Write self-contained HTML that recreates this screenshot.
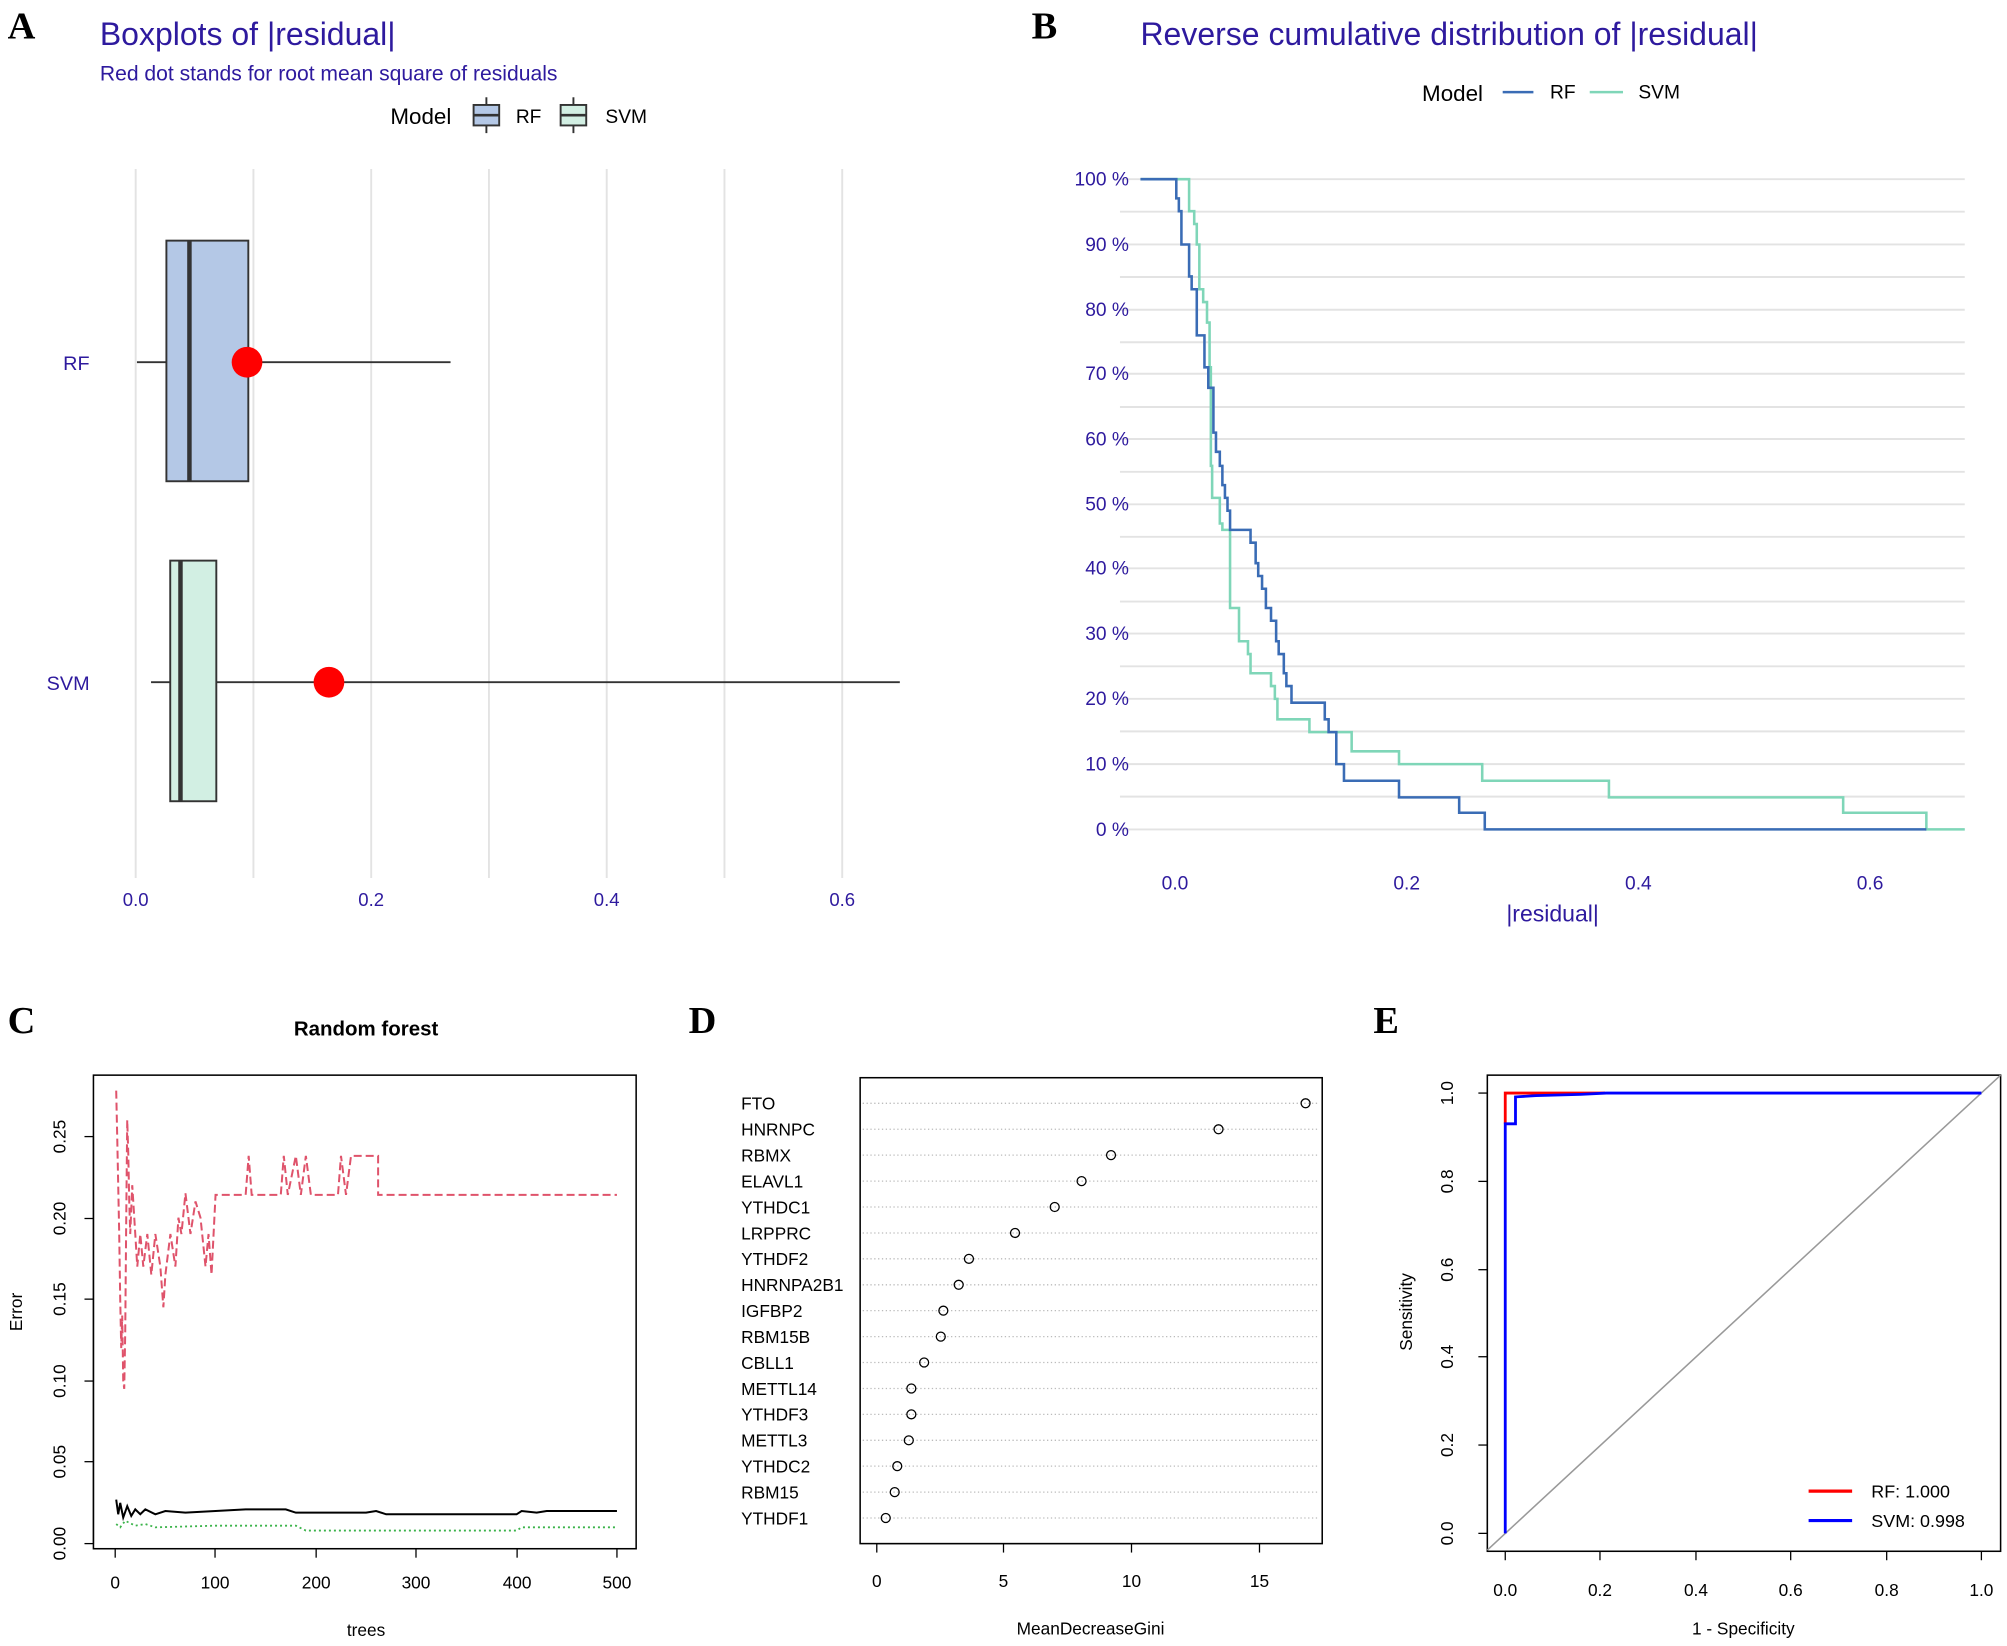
<!DOCTYPE html>
<html><head><meta charset="utf-8"><style>
html,body{margin:0;padding:0;background:#fff;}
svg{display:block;}
text{font-family:"Liberation Sans",Arial,sans-serif;}
.t{fill:#2e1a9e;}
.L{font-family:"Liberation Serif",serif;font-weight:bold;font-size:30px;fill:#000;}
</style></head><body>
<svg width="2007" height="1646" viewBox="0 0 1568 1286" preserveAspectRatio="none" xmlns="http://www.w3.org/2000/svg">
<rect width="1568" height="1286" fill="#fff"/>
<!-- Panel A -->
<text class="L" x="6" y="30">A</text>
<text class="t" x="78" y="35" font-size="25">Boxplots of |residual|</text>
<text class="t" x="78" y="63" font-size="16.5">Red dot stands for root mean square of residuals</text>
<text x="305" y="97" font-size="17.5">Model</text>
<line x1="380" y1="76" x2="380" y2="104" stroke="#333" stroke-width="1.5"/>
<rect x="370" y="82" width="20" height="16" fill="#b4c8e6" stroke="#333" stroke-width="1.5"/>
<line x1="370" y1="90" x2="390" y2="90" stroke="#333" stroke-width="2"/>
<text x="403" y="96" font-size="15">RF</text>
<line x1="448" y1="76" x2="448" y2="104" stroke="#333" stroke-width="1.5"/>
<rect x="438" y="82" width="20" height="16" fill="#d2efe3" stroke="#333" stroke-width="1.5"/>
<line x1="438" y1="90" x2="458" y2="90" stroke="#333" stroke-width="2"/>
<text x="473" y="96" font-size="15">SVM</text>
<g stroke="#e3e3e3" stroke-width="1.5">
<line x1="106" y1="132" x2="106" y2="686"/><line x1="198" y1="132" x2="198" y2="686"/><line x1="290" y1="132" x2="290" y2="686"/><line x1="382" y1="132" x2="382" y2="686"/><line x1="474" y1="132" x2="474" y2="686"/><line x1="566" y1="132" x2="566" y2="686"/><line x1="658" y1="132" x2="658" y2="686"/>
</g>
<g stroke="#333" stroke-width="1.5">
<line x1="107" y1="283" x2="352" y2="283"/>
<rect x="130" y="188" width="64" height="188" fill="#b4c8e6"/>
<line x1="148" y1="188" x2="148" y2="376" stroke-width="3.5"/>
<line x1="118" y1="533" x2="703" y2="533"/>
<rect x="133" y="438" width="36" height="188" fill="#d2efe3"/>
<line x1="141" y1="438" x2="141" y2="626" stroke-width="3.5"/>
</g>
<circle cx="193" cy="283" r="12" fill="#ff0000"/>
<circle cx="257" cy="533" r="12" fill="#ff0000"/>
<text class="t" x="70" y="289" font-size="15.5" text-anchor="end">RF</text>
<text class="t" x="70" y="539" font-size="15.5" text-anchor="end">SVM</text>
<g class="t" font-size="14.5" text-anchor="middle">
<text x="106" y="708">0.0</text><text x="290" y="708">0.2</text><text x="474" y="708">0.4</text><text x="658" y="708">0.6</text>
</g>
<!-- Panel B -->
<text class="L" x="806" y="30">B</text>
<text class="t" x="891" y="35" font-size="25">Reverse cumulative distribution of |residual|</text>
<text x="1111" y="79" font-size="17.5">Model</text>
<line x1="1174" y1="72" x2="1198" y2="72" stroke="#3a6cb5" stroke-width="2"/>
<text x="1211" y="77" font-size="15">RF</text>
<line x1="1242" y1="72" x2="1268" y2="72" stroke="#7fd6b8" stroke-width="2"/>
<text x="1280" y="77" font-size="15">SVM</text>
<g stroke="#e3e3e3" stroke-width="1.5">
<line x1="875" y1="140" x2="1535" y2="140"/><line x1="875" y1="165.4" x2="1535" y2="165.4"/><line x1="875" y1="191" x2="1535" y2="191"/><line x1="875" y1="216.4" x2="1535" y2="216.4"/><line x1="875" y1="242" x2="1535" y2="242"/><line x1="875" y1="267.4" x2="1535" y2="267.4"/><line x1="875" y1="292" x2="1535" y2="292"/><line x1="875" y1="318" x2="1535" y2="318"/><line x1="875" y1="343" x2="1535" y2="343"/><line x1="875" y1="368.6" x2="1535" y2="368.6"/><line x1="875" y1="394" x2="1535" y2="394"/><line x1="875" y1="419.4" x2="1535" y2="419.4"/><line x1="875" y1="444" x2="1535" y2="444"/><line x1="875" y1="470" x2="1535" y2="470"/><line x1="875" y1="495" x2="1535" y2="495"/><line x1="875" y1="520.6" x2="1535" y2="520.6"/><line x1="875" y1="546" x2="1535" y2="546"/><line x1="875" y1="571.4" x2="1535" y2="571.4"/><line x1="875" y1="597" x2="1535" y2="597"/><line x1="875" y1="622.4" x2="1535" y2="622.4"/><line x1="875" y1="648" x2="1535" y2="648"/>
</g>
<g class="t" font-size="15" text-anchor="end">
<text x="882" y="145">100 %</text><text x="882" y="196">90 %</text><text x="882" y="247">80 %</text><text x="882" y="297">70 %</text><text x="882" y="348">60 %</text><text x="882" y="399">50 %</text><text x="882" y="449">40 %</text><text x="882" y="500">30 %</text><text x="882" y="551">20 %</text><text x="882" y="602">10 %</text><text x="882" y="653">0 %</text>
</g>
<path fill="none" stroke="#7fd6b8" stroke-width="2" d="M891 140 H929 V165 H933 V175 H935 V191 H937 V226 H940 V236 H943 V252 H945 V287 H946 V364 H947 V389 H953 V409 H955 V414 H961 V475 H968 V501 H975 V511 H977 V526 H993 V536 H996 V546 H998 V562 H1023 V572 H1056 V587 H1093 V597 H1158 V610 H1257 V623 H1440 V635 H1505 V648 H1535"/>
<path fill="none" stroke="#3a6cb5" stroke-width="2" d="M891 140 H919 V155 H921 V165 H923 V191 H929 V216 H931 V226 H935 V262 H941 V287 H944 V303 H948 V338 H950 V353 H953 V364 H955 V379 H957 V389 H959 V399 H961 V414 H977 V424 H981 V440 H983 V450 H986 V460 H989 V475 H993 V485 H997 V501 H999 V511 H1003 V526 H1005 V536 H1009 V549 H1035 V562 H1038 V572 H1044 V597 H1050 V610 H1093 V623 H1140 V635 H1160 V648 H1505"/>
<g class="t" font-size="15" text-anchor="middle">
<text x="918" y="695">0.0</text><text x="1099" y="695">0.2</text><text x="1280" y="695">0.4</text><text x="1461" y="695">0.6</text>
<text x="1213" y="720" font-size="18">|residual|</text>
</g>
<!-- Panel C -->
<text class="L" x="6" y="807">C</text>
<text x="286" y="809" font-size="16" font-weight="bold" text-anchor="middle">Random forest</text>
<rect x="73" y="840" width="424" height="370" fill="none" stroke="#000" stroke-width="1.2"/>
<g stroke="#000" stroke-width="1">
<line x1="90" y1="1210" x2="482" y2="1210"/>
<line x1="90" y1="1210" x2="90" y2="1217"/><line x1="168" y1="1210" x2="168" y2="1217"/><line x1="247" y1="1210" x2="247" y2="1217"/><line x1="325" y1="1210" x2="325" y2="1217"/><line x1="404" y1="1210" x2="404" y2="1217"/><line x1="482" y1="1210" x2="482" y2="1217"/>
<line x1="73" y1="888" x2="73" y2="1206"/>
<line x1="66" y1="1206" x2="73" y2="1206"/><line x1="66" y1="1142" x2="73" y2="1142"/><line x1="66" y1="1079" x2="73" y2="1079"/><line x1="66" y1="1015" x2="73" y2="1015"/><line x1="66" y1="952" x2="73" y2="952"/><line x1="66" y1="888" x2="73" y2="888"/>
</g>
<g font-size="13.5" text-anchor="middle">
<text x="90" y="1241">0</text><text x="168" y="1241">100</text><text x="247" y="1241">200</text><text x="325" y="1241">300</text><text x="404" y="1241">400</text><text x="482" y="1241">500</text>
<text x="286" y="1278">trees</text>
<text transform="translate(51,1206) rotate(-90)">0.00</text>
<text transform="translate(51,1142) rotate(-90)">0.05</text>
<text transform="translate(51,1079) rotate(-90)">0.10</text>
<text transform="translate(51,1015) rotate(-90)">0.15</text>
<text transform="translate(51,952) rotate(-90)">0.20</text>
<text transform="translate(51,888) rotate(-90)">0.25</text>
<text transform="translate(17,1025) rotate(-90)">Error</text>
</g>
<g transform="translate(90,1206) scale(0.784,-1273)" fill="none">
<polyline vector-effect="non-scaling-stroke" stroke="#df536b" stroke-width="2" stroke-dasharray="8,4" points="1,0.278 2,0.25 3,0.22 4,0.19 5,0.15 6,0.12 7,0.14 8,0.10 9,0.095 10,0.13 11,0.20 12,0.26 13,0.24 14,0.21 15,0.19 17,0.22 19,0.20 22,0.17 25,0.19 28,0.17 32,0.19 36,0.165 40,0.19 45,0.17 48,0.145 50,0.165 55,0.19 60,0.17 63,0.20 66,0.19 70,0.215 75,0.19 80,0.21 85,0.20 90,0.17 93,0.19 96,0.165 100,0.214 130,0.214 133,0.238 136,0.214 165,0.214 168,0.238 172,0.214 180,0.238 185,0.214 190,0.238 195,0.214 222,0.214 225,0.238 230,0.214 235,0.238 240,0.238 262,0.238 262,0.214 500,0.214"/>
<polyline vector-effect="non-scaling-stroke" stroke="#000" stroke-width="2" points="1,0.027 3,0.018 5,0.025 8,0.016 12,0.023 16,0.017 20,0.021 25,0.018 30,0.021 40,0.018 50,0.02 70,0.019 100,0.02 130,0.021 170,0.021 180,0.019 250,0.019 260,0.02 270,0.018 400,0.018 405,0.02 420,0.019 430,0.02 500,0.02"/>
<polyline vector-effect="non-scaling-stroke" stroke="#3bb34a" stroke-width="1.8" stroke-dasharray="2,3" points="1,0.012 5,0.01 10,0.014 20,0.011 30,0.012 40,0.01 100,0.011 180,0.011 190,0.008 400,0.008 405,0.01 500,0.01"/>
</g>
<!-- Panel D -->
<text class="L" x="538" y="807">D</text>
<rect x="672" y="842" width="361" height="364" fill="none" stroke="#000" stroke-width="1.2"/>
<g stroke="#bbb" stroke-width="1" stroke-dasharray="1,2">
<line x1="674" y1="862" x2="1031" y2="862"/><line x1="674" y1="882.3" x2="1031" y2="882.3"/><line x1="674" y1="902.5" x2="1031" y2="902.5"/><line x1="674" y1="922.8" x2="1031" y2="922.8"/><line x1="674" y1="943" x2="1031" y2="943"/><line x1="674" y1="963.3" x2="1031" y2="963.3"/><line x1="674" y1="983.5" x2="1031" y2="983.5"/><line x1="674" y1="1003.8" x2="1031" y2="1003.8"/><line x1="674" y1="1024" x2="1031" y2="1024"/><line x1="674" y1="1044.3" x2="1031" y2="1044.3"/><line x1="674" y1="1064.5" x2="1031" y2="1064.5"/><line x1="674" y1="1084.8" x2="1031" y2="1084.8"/><line x1="674" y1="1105" x2="1031" y2="1105"/><line x1="674" y1="1125.3" x2="1031" y2="1125.3"/><line x1="674" y1="1145.5" x2="1031" y2="1145.5"/><line x1="674" y1="1165.8" x2="1031" y2="1165.8"/><line x1="674" y1="1186" x2="1031" y2="1186"/>
</g>
<g fill="none" stroke="#000" stroke-width="1">
<circle cx="1020" cy="862" r="3.5"/><circle cx="952" cy="882.3" r="3.5"/><circle cx="868" cy="902.5" r="3.5"/><circle cx="845" cy="922.8" r="3.5"/><circle cx="824" cy="943" r="3.5"/><circle cx="793" cy="963.3" r="3.5"/><circle cx="757" cy="983.5" r="3.5"/><circle cx="749" cy="1003.8" r="3.5"/><circle cx="737" cy="1024" r="3.5"/><circle cx="735" cy="1044.3" r="3.5"/><circle cx="722" cy="1064.5" r="3.5"/><circle cx="712" cy="1084.8" r="3.5"/><circle cx="712" cy="1105" r="3.5"/><circle cx="710" cy="1125.3" r="3.5"/><circle cx="701" cy="1145.5" r="3.5"/><circle cx="699" cy="1165.8" r="3.5"/><circle cx="692" cy="1186" r="3.5"/>
</g>
<g font-size="13.5">
<text x="579" y="867">FTO</text><text x="579" y="887.3">HNRNPC</text><text x="579" y="907.5">RBMX</text><text x="579" y="927.8">ELAVL1</text><text x="579" y="948">YTHDC1</text><text x="579" y="968.3">LRPPRC</text><text x="579" y="988.5">YTHDF2</text><text x="579" y="1008.8">HNRNPA2B1</text><text x="579" y="1029">IGFBP2</text><text x="579" y="1049.3">RBM15B</text><text x="579" y="1069.5">CBLL1</text><text x="579" y="1089.8">METTL14</text><text x="579" y="1110">YTHDF3</text><text x="579" y="1130.3">METTL3</text><text x="579" y="1150.5">YTHDC2</text><text x="579" y="1170.8">RBM15</text><text x="579" y="1191">YTHDF1</text>
</g>
<g stroke="#000" stroke-width="1">
<line x1="685" y1="1206" x2="984" y2="1206"/>
<line x1="685" y1="1206" x2="685" y2="1213"/><line x1="784" y1="1206" x2="784" y2="1213"/><line x1="884" y1="1206" x2="884" y2="1213"/><line x1="984" y1="1206" x2="984" y2="1213"/>
</g>
<g font-size="13.5" text-anchor="middle">
<text x="685" y="1240">0</text><text x="784" y="1240">5</text><text x="884" y="1240">10</text><text x="984" y="1240">15</text>
<text x="852" y="1277">MeanDecreaseGini</text>
</g>
<!-- Panel E -->
<text class="L" x="1073" y="807">E</text>
<rect x="1162" y="840" width="401" height="372" fill="none" stroke="#000" stroke-width="1.2"/>
<line x1="1162" y1="1211" x2="1563" y2="840" stroke="#999" stroke-width="1.2"/>
<g stroke="#000" stroke-width="1">
<line x1="1176" y1="1212" x2="1548" y2="1212"/>
<line x1="1176" y1="1212" x2="1176" y2="1219"/><line x1="1250" y1="1212" x2="1250" y2="1219"/><line x1="1325" y1="1212" x2="1325" y2="1219"/><line x1="1399" y1="1212" x2="1399" y2="1219"/><line x1="1474" y1="1212" x2="1474" y2="1219"/><line x1="1548" y1="1212" x2="1548" y2="1219"/>
<line x1="1162" y1="854" x2="1162" y2="1198"/>
<line x1="1155" y1="854" x2="1162" y2="854"/><line x1="1155" y1="923" x2="1162" y2="923"/><line x1="1155" y1="992" x2="1162" y2="992"/><line x1="1155" y1="1060" x2="1162" y2="1060"/><line x1="1155" y1="1129" x2="1162" y2="1129"/><line x1="1155" y1="1198" x2="1162" y2="1198"/>
</g>
<g font-size="13.5" text-anchor="middle">
<text x="1176" y="1247">0.0</text><text x="1250" y="1247">0.2</text><text x="1325" y="1247">0.4</text><text x="1399" y="1247">0.6</text><text x="1474" y="1247">0.8</text><text x="1548" y="1247">1.0</text>
<text x="1362" y="1277">1 - Specificity</text>
<text transform="translate(1135,1198) rotate(-90)">0.0</text>
<text transform="translate(1135,1129) rotate(-90)">0.2</text>
<text transform="translate(1135,1060) rotate(-90)">0.4</text>
<text transform="translate(1135,992) rotate(-90)">0.6</text>
<text transform="translate(1135,923) rotate(-90)">0.8</text>
<text transform="translate(1135,854) rotate(-90)">1.0</text>
<text transform="translate(1103,1025) rotate(-90)">Sensitivity</text>
</g>
<polyline fill="none" stroke="#ff0000" stroke-width="2.2" points="1176,878 1176,854 1254,854"/>
<polyline fill="none" stroke="#0000ff" stroke-width="2.2" points="1176,1198 1176,878 1184,878 1184,857 1200,856 1235,855 1255,854 1548,854"/>
<line x1="1413" y1="1165" x2="1447" y2="1165" stroke="#ff0000" stroke-width="2.5"/>
<text x="1462" y="1170" font-size="14">RF: 1.000</text>
<line x1="1413" y1="1188" x2="1447" y2="1188" stroke="#0000ff" stroke-width="2.5"/>
<text x="1462" y="1193" font-size="14">SVM: 0.998</text>
</svg>
</body></html>
